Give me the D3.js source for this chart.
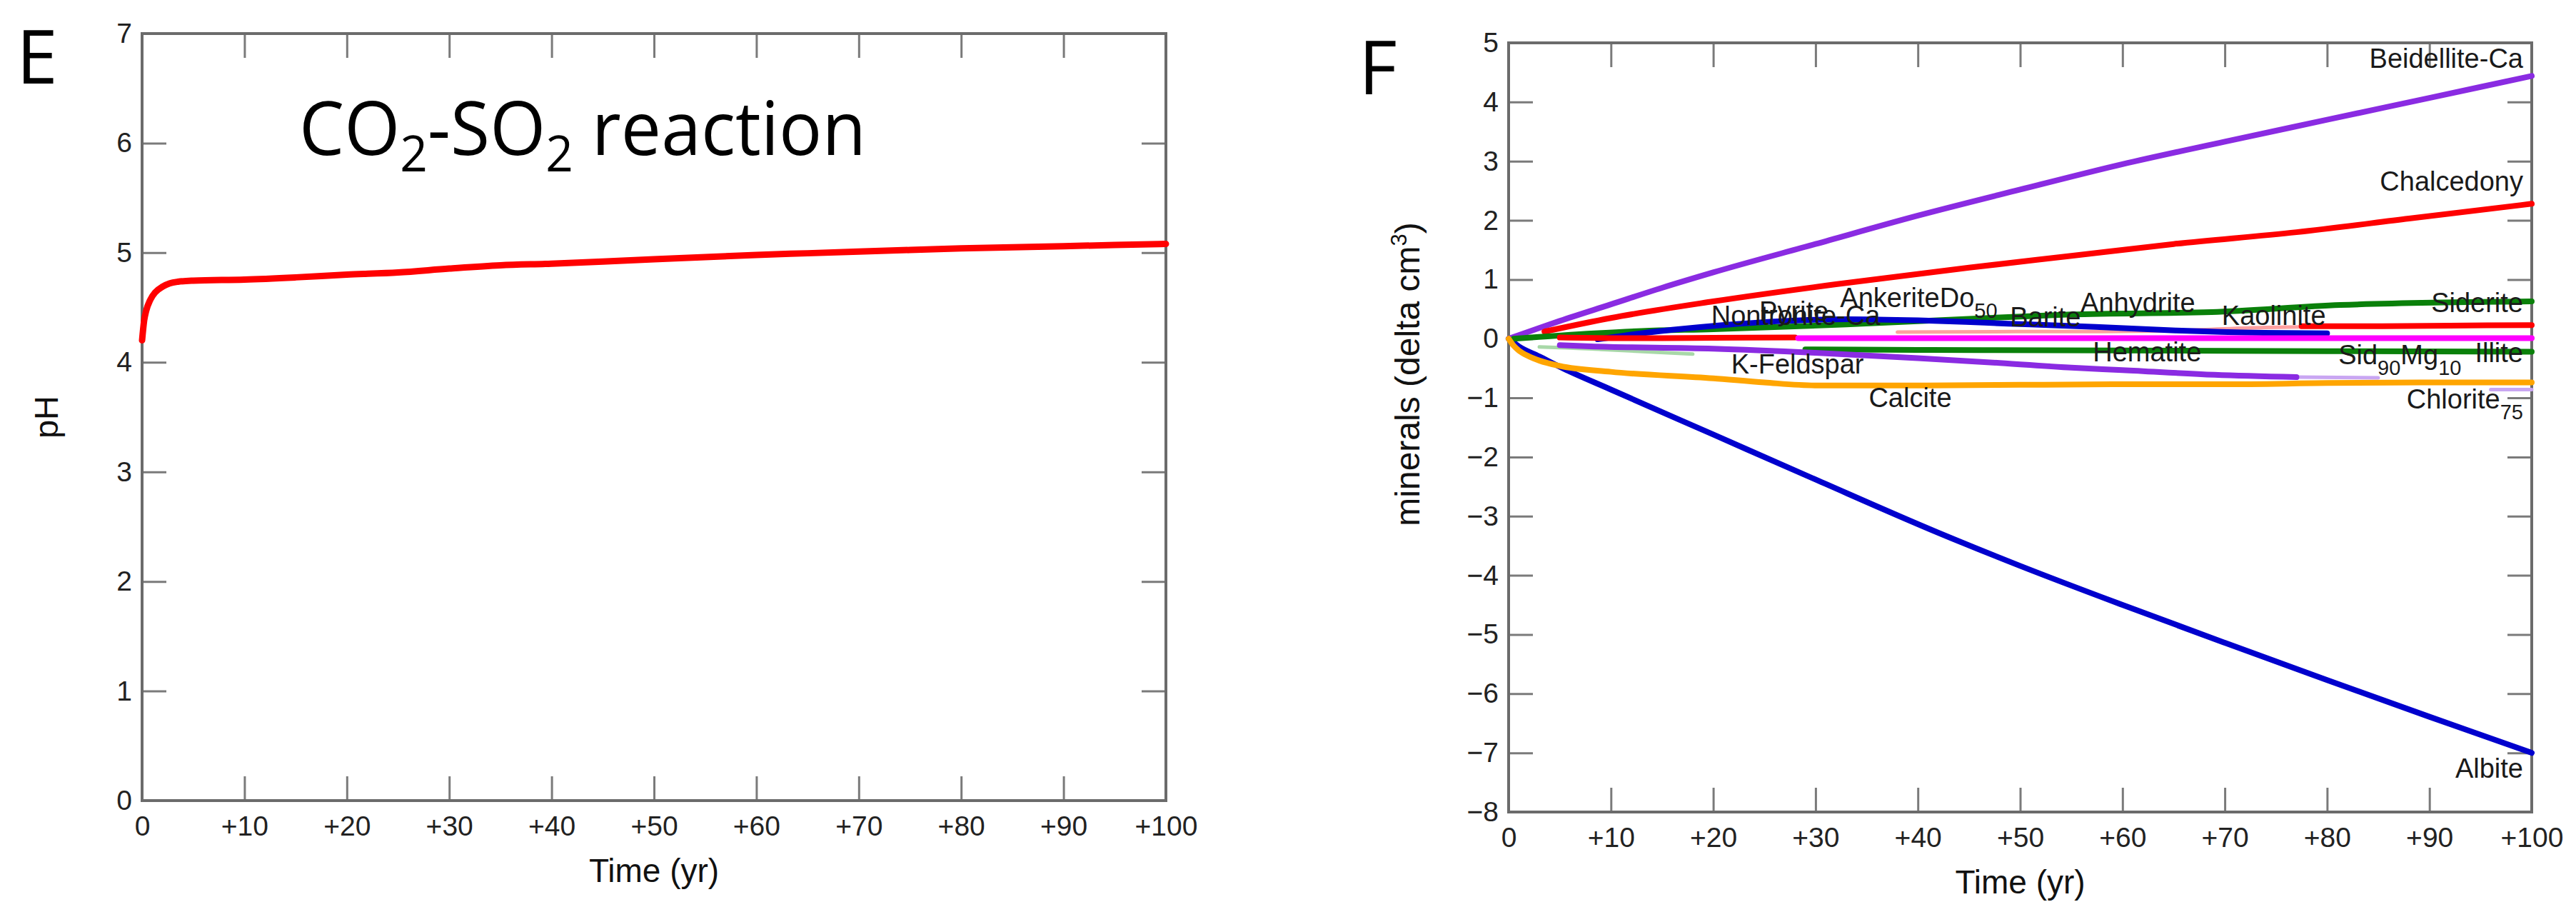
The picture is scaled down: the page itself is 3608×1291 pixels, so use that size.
<!DOCTYPE html>
<html><head><meta charset="utf-8">
<script src="https://cdn.jsdelivr.net/npm/d3@7"></script>
<style>html,body{margin:0;padding:0;background:#fff;}svg{display:block;}</style>
</head><body>
<svg id="chart" width="3608" height="1291"></svg>
<script>
// ---------------- DATA ----------------
// Panel E : pH vs time
const phTime   = [0,0.2,0.4,0.8,1.3,2,2.7,3.5,5,10,15,20,25,30,35,40,45,50,55,60,65,70,75,80,85,90,95,100];
const phValues = [4.2,4.38,4.47,4.57,4.64,4.69,4.72,4.735,4.745,4.755,4.775,4.8,4.82,4.855,4.885,4.9,4.92,4.94,4.96,4.98,4.995,5.01,5.025,5.04,5.05,5.06,5.07,5.08];

const timeTickValues = [0,10,20,30,40,50,60,70,80,90,100];
const timeTickLabels = ["0","+10","+20","+30","+40","+50","+60","+70","+80","+90","+100"];
const phTickValues = [0,1,2,3,4,5,6,7];
const mineralTickValues = [5,4,3,2,1,0,-1,-2,-3,-4,-5,-6,-7,-8];
const mineralTickLabels = ["5","4","3","2","1","0","\u22121","\u22122","\u22123","\u22124","\u22125","\u22126","\u22127","\u22128"];

// Panel F : minerals (delta cm3) vs time, [year, value]
const beidelliteCa = [[0,0],[2,0.12],[5,0.3],[10,0.58],[15,0.86],[20,1.12],[30,1.6],[40,2.08],[50,2.52],[60,2.95],[70,3.33],[80,3.7],[90,4.07],[100,4.44]];
const chalcedony   = [[3.5,0.12],[10,0.35],[20,0.63],[32,0.92],[45,1.2],[55,1.4],[65,1.6],[77,1.8],[88,2.03],[100,2.28]];
const albite       = [[0,0],[1,-0.13],[3,-0.3],[5.3,-0.5],[10,-0.86],[20,-1.62],[30,-2.38],[42,-3.28],[50,-3.84],[60,-4.5],[70,-5.14],[80,-5.77],[90,-6.39],[100,-7.0]];
const calcite      = [[0,0],[0.5,-0.12],[1,-0.2],[2,-0.3],[3,-0.37],[5,-0.46],[10,-0.56],[20,-0.67],[25,-0.74],[30,-0.79],[40,-0.79],[50,-0.78],[60,-0.77],[70,-0.77],[80,-0.75],[90,-0.74],[100,-0.74]];
const siderite     = [[0.5,0],[8.4,0.09],[13,0.13],[20,0.16],[33,0.24],[48,0.36],[55,0.41],[68.7,0.45],[81.3,0.57],[100,0.63]];
const ankeriteDo50 = [[8.7,-0.01],[12,0.07],[16,0.15],[20.9,0.23],[27,0.3],[33,0.33],[40,0.31],[46.5,0.27],[51,0.24],[57.4,0.2],[65.2,0.14],[73.8,0.1],[80,0.09]];
const pyrite       = [[5,0.02],[10,0.01],[15,0.01],[20,0.015],[28,0.02]];
const anhydrite    = [[28.3,0.01],[50,0.01],[75,0.01],[100,0.01]];
const kaoliniteEarly = [[38,0.11],[50,0.12],[58,0.12],[66,0.14],[74,0.19],[77.5,0.2]];
const kaolinite    = [[77.5,0.21],[85,0.21],[92,0.22],[100,0.23]];
const hematite     = [[29,-0.18],[40,-0.19],[60,-0.2],[80,-0.21],[100,-0.22]];
const nontroniteCa = [[3,-0.14],[5,-0.15],[9,-0.18],[18,-0.26]];
const kFeldspar    = [[5,-0.11],[8,-0.13],[20,-0.17],[30,-0.24],[40,-0.33],[48,-0.41],[55,-0.49],[60,-0.53],[69,-0.61],[77,-0.65]];
const kFeldsparLate = [[77,-0.65],[85,-0.66]];
const chlorite75   = [[96,-0.86],[100,-0.86]];

// Label annotations: text parts and data anchor (year, value)
const mineralLabels = [
  {parts:[["Beidellite-Ca"]], t:100, v:4.58, anchor:"end"},
  {parts:[["Chalcedony"]], t:100, v:2.5, anchor:"end"},
  {parts:[["Siderite"]], t:100, v:0.45, anchor:"end"},
  {parts:[["Illite"]], t:100, v:-0.40, anchor:"end"},
  {parts:[["Chlorite"],["75","sub"]], t:100, v:-1.18, anchor:"end"},
  {parts:[["Albite"]], t:100, v:-7.42, anchor:"end"},
  {parts:[["Sid"],["90","sub"],["Mg"],["10","sub"]], t:81.1, v:-0.43, anchor:"start"},
  {parts:[["Hematite"]], t:57.1, v:-0.385, anchor:"start"},
  {parts:[["Kaolinite"]], t:69.7, v:0.235, anchor:"start"},
  {parts:[["Anhydrite"]], t:55.9, v:0.45, anchor:"start"},
  {parts:[["Barite"]], t:49.0, v:0.21, anchor:"start"},
  {parts:[["AnkeriteDo"],["50","sub"]], t:32.4, v:0.53, anchor:"start"},
  {parts:[["Nontronite-Ca"]], t:19.8, v:0.23, anchor:"start"},
  {parts:[["Pyrite"]], t:24.5, v:0.31, anchor:"start"},
  {parts:[["K-Feldspar"]], t:21.75, v:-0.59, anchor:"start"},
  {parts:[["Calcite"]], t:35.2, v:-1.15, anchor:"start"}
];

// ---------------- STYLES ----------------
const mineralSeries = [
  {data:nontroniteCa,  color:"#a8d8a8", width:5},
  {data:kaoliniteEarly,color:"#ffa0a0", width:5},
  {data:kFeldsparLate, color:"#c9a6f2", width:5},
  {data:chlorite75,    color:"#c9a6f2", width:5},
  {data:albite,        color:"#0000cd", width:8},
  {data:beidelliteCa,  color:"#8a2be2", width:8},
  {data:chalcedony,    color:"#ff0000", width:8},
  {data:siderite,      color:"#0a800a", width:8},
  {data:ankeriteDo50,  color:"#0000cd", width:8},
  {data:pyrite,        color:"#ff0000", width:8},
  {data:anhydrite,     color:"#ff00ff", width:8},
  {data:kaolinite,     color:"#ff0000", width:8},
  {data:hematite,      color:"#0a800a", width:8},
  {data:kFeldspar,     color:"#8a2be2", width:8},
  {data:calcite,       color:"#ffa500", width:8}
];

const AX = "Liberation Sans, Arial, sans-serif";
const svg = d3.select("#chart");
const FRAME = "#6b6b6b", TICK = "#7a7a7a";

function panel(cfg){
  const g = svg.append("g");
  const x = d3.scaleLinear().domain([0,100]).range(cfg.xr);
  const y = d3.scaleLinear().domain(cfg.yd).range(cfg.yr);
  const [x0,x1] = cfg.xr, [yb,yt] = cfg.yr;

  const styleAxis = (sel, labels) => {
    sel.select(".domain").remove();
    sel.selectAll(".tick line").attr("stroke",TICK).attr("stroke-width",3);
    sel.selectAll(".tick text").attr("fill","#222").style("font-family",AX).style("font-size","39px");
  };
  g.append("g").attr("transform",`translate(0,${yb})`)
    .call(d3.axisBottom(x).tickValues(timeTickValues).tickSize(-34).tickPadding(21)
      .tickFormat((d,i)=>timeTickLabels[i])).call(styleAxis);
  g.append("g").attr("transform",`translate(0,${yt})`)
    .call(d3.axisTop(x).tickValues(timeTickValues).tickSize(-34).tickFormat("")).call(styleAxis);
  g.append("g").attr("transform",`translate(${x0},0)`)
    .call(d3.axisLeft(y).tickValues(cfg.yTicks).tickSize(-34).tickPadding(14)
      .tickFormat((d,i)=>cfg.yLabels[i])).call(styleAxis);
  g.append("g").attr("transform",`translate(${x1},0)`)
    .call(d3.axisRight(y).tickValues(cfg.yTicks).tickSize(-34).tickFormat("")).call(styleAxis);
  g.selectAll(".tick text").attr("dy", function(){ return d3.select(this).attr("dy"); });

  g.append("rect").attr("x",x0).attr("y",yt).attr("width",x1-x0).attr("height",yb-yt)
    .attr("fill","none").attr("stroke",FRAME).attr("stroke-width",4);

  // x label
  g.append("text").attr("x",(x0+x1)/2).attr("y",cfg.xLabelY).attr("text-anchor","middle")
    .style("font-family",AX).style("font-size","46px").attr("fill","#111").text("Time (yr)");
  return {g,x,y};
}

// ---------- Panel E ----------
const E = panel({xr:[199,1633], yr:[1121,47], yd:[0,7], yTicks:phTickValues,
  yLabels:phTickValues.map(String), xLabelY:1235});
E.g.append("text").attr("transform","translate(81,584) rotate(-90)").attr("text-anchor","middle")
  .style("font-family",AX).style("font-size","47px").attr("fill","#111").text("pH");
const phLine = d3.line().x((d,i)=>E.x(phTime[i])).y(d=>E.y(d)).curve(d3.curveMonotoneX);
E.g.append("path").attr("d",phLine(phValues)).attr("fill","none").attr("stroke","#ff0000")
  .attr("stroke-width",9).attr("stroke-linecap","round").attr("stroke-linejoin","round");

// ---------- Panel F ----------
const F = panel({xr:[2113,3546], yr:[1137,60], yd:[-8,5], yTicks:mineralTickValues,
  yLabels:mineralTickLabels, xLabelY:1251});
const yl = F.g.append("text").attr("transform","translate(1988,524) rotate(-90)").attr("text-anchor","middle")
  .style("font-family",AX).style("font-size","48px").attr("fill","#111");
yl.append("tspan").text("minerals (delta cm");
yl.append("tspan").attr("dy",-18).style("font-size","31px").text("3");
yl.append("tspan").attr("dy",18).text(")");

const mLine = d3.line().x(d=>F.x(d[0])).y(d=>F.y(d[1])).curve(d3.curveMonotoneX);
F.g.selectAll("path.series").data(mineralSeries).join("path").attr("class","series")
  .attr("d",s=>mLine(s.data)).attr("fill","none").attr("stroke",s=>s.color)
  .attr("stroke-width",s=>s.width).attr("stroke-linecap","round").attr("stroke-linejoin","round");

mineralLabels.forEach(l=>{
  const xx = l.anchor==="end" ? F.x(l.t)-12 : F.x(l.t);
  const t = F.g.append("text").attr("x",xx).attr("y",F.y(l.v)).attr("text-anchor",l.anchor)
    .style("font-family",AX).style("font-size","38px").attr("fill","#1a1a1a");
  let shifted = false;
  l.parts.forEach(p=>{
    const ts = t.append("tspan").text(p[0]);
    if(p[1]==="sub"){ ts.attr("dy",15).style("font-size","29px"); shifted=true; }
    else if(shifted){ ts.attr("dy",-15); shifted=false; }
  });
});

// ---------- Panel letters & title ----------
const TF = "'Open Sans', Lato, sans-serif";
svg.append("text").attr("x",23).attr("y",117).style("font-family",TF).style("font-size","104px")
  .style("font-weight",500).attr("fill","#000").text("E");
svg.append("text").attr("x",1903).attr("y",132).style("font-family",TF).style("font-size","104px")
  .style("font-weight",500).attr("fill","#000").text("F");
const title = svg.append("text").attr("x",419).attr("y",217).style("font-family",TF)
  .style("font-size","104px").attr("fill","#000");
title.append("tspan").text("CO");
title.append("tspan").attr("dy",23).style("font-size","70px").text("2");
title.append("tspan").attr("dy",-23).text("-SO");
title.append("tspan").attr("dy",23).style("font-size","70px").text("2");
title.append("tspan").attr("dy",-23).text(" reaction");
const bb = title.node().getBBox();
const k = 794/bb.width;
title.attr("transform",`translate(419,0) scale(${k},1) translate(-419,0)`);
</script>
</body></html>
